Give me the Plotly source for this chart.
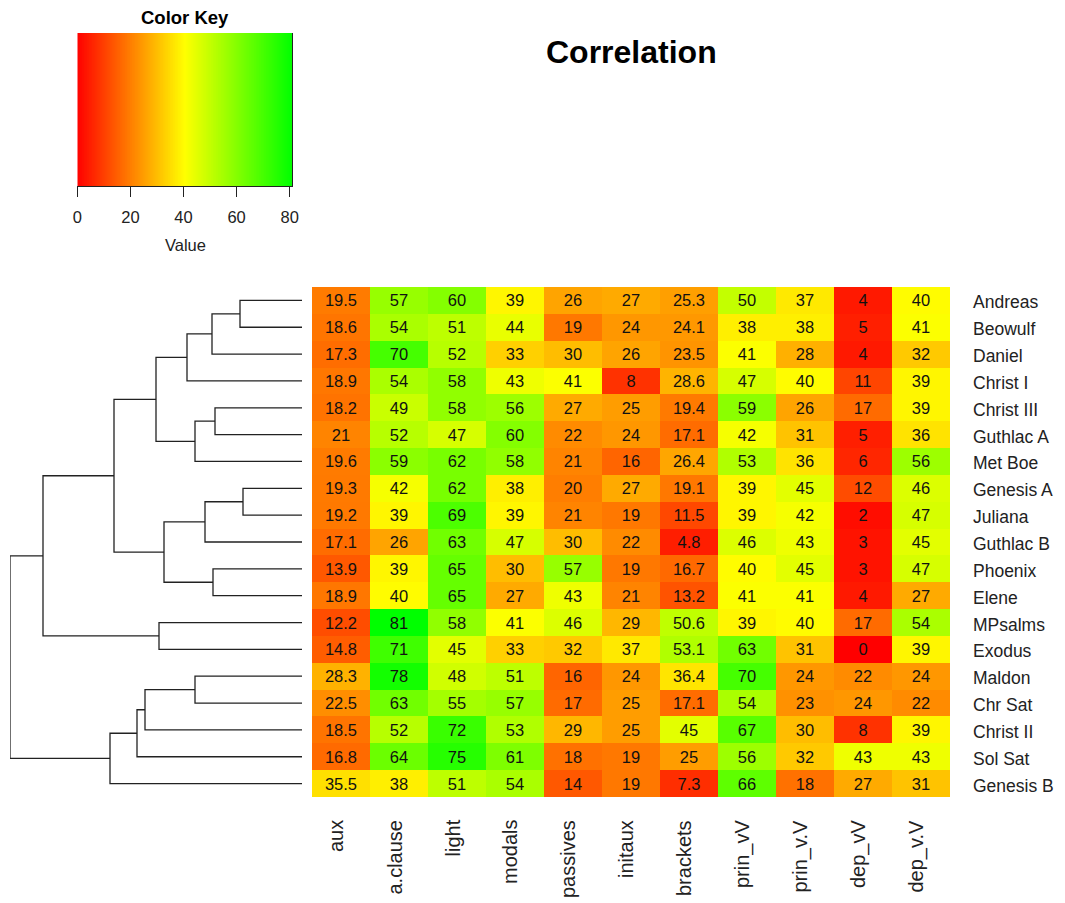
import numpy as np
import plotly.graph_objects as go

# ---- data -------------------------------------------------------------
texts = ["Andreas", "Beowulf", "Daniel", "Christ I", "Christ III", "Guthlac A",
         "Met Boe", "Genesis A", "Juliana", "Guthlac B", "Phoenix", "Elene",
         "MPsalms", "Exodus", "Maldon", "Chr Sat", "Christ II", "Sol Sat",
         "Genesis B"]
features = ["aux", "a.clause", "light", "modals", "passives", "initaux",
            "brackets", "prin_vV", "prin_v.V", "dep_vV", "dep_v.V"]

aux      = [19.5, 18.6, 17.3, 18.9, 18.2, 21, 19.6, 19.3, 19.2, 17.1, 13.9, 18.9, 12.2, 14.8, 28.3, 22.5, 18.5, 16.8, 35.5]
a_clause = [57, 54, 70, 54, 49, 52, 59, 42, 39, 26, 39, 40, 81, 71, 78, 63, 52, 64, 38]
light    = [60, 51, 52, 58, 58, 47, 62, 62, 69, 63, 65, 65, 58, 45, 48, 55, 72, 75, 51]
modals   = [39, 44, 33, 43, 56, 60, 58, 38, 39, 47, 30, 27, 41, 33, 51, 57, 53, 61, 54]
passives = [26, 19, 30, 41, 27, 22, 21, 20, 21, 30, 57, 43, 46, 32, 16, 17, 29, 18, 14]
initaux  = [27, 24, 26, 8, 25, 24, 16, 27, 19, 22, 19, 21, 29, 37, 24, 25, 25, 19, 19]
brackets = [25.3, 24.1, 23.5, 28.6, 19.4, 17.1, 26.4, 19.1, 11.5, 4.8, 16.7, 13.2, 50.6, 53.1, 36.4, 17.1, 45, 25, 7.3]
prin_vV  = [50, 38, 41, 47, 59, 42, 53, 39, 39, 46, 40, 41, 39, 63, 70, 54, 67, 56, 66]
prin_v_V = [37, 38, 28, 40, 26, 31, 36, 45, 42, 43, 45, 41, 40, 31, 24, 23, 30, 32, 18]
dep_vV   = [4, 5, 4, 11, 17, 5, 6, 12, 2, 3, 3, 4, 17, 0, 22, 24, 8, 43, 27]
dep_v_V  = [40, 41, 32, 39, 39, 36, 56, 46, 47, 45, 47, 27, 54, 39, 24, 22, 39, 43, 31]

# row clustering: each merge joins two members (leaf names or earlier nodes n1, n2, ...)
merge_a = ["Andreas", "n1", "n2", "Christ III", "n4", "n3", "Genesis A", "n7",
           "Phoenix", "n8", "n6", "MPsalms", "n11", "Maldon", "n14", "n15", "n16", "n13"]
merge_b = ["Beowulf", "Daniel", "Christ I", "Guthlac A", "Met Boe", "n5", "Juliana",
           "Guthlac B", "Elene", "n9", "n10", "Exodus", "n12", "Chr Sat", "Christ II",
           "Sol Sat", "Genesis B", "n17"]
merge_h = [62, 90, 115, 87, 107, 146, 59, 97, 89, 138, 188, 143, 259, 107, 157, 165, 192, 292]

key_ticks = [0, 20, 40, 60, 80]
zmin, zmax = 0, 81

# ---- layout helpers ---------------------------------------------------
W, H = 1065, 903
FONT = "Liberation Sans, Arial, sans-serif"


def px(x):
    return x / W


def py(y):
    return 1 - y / H


colorscale = [[0.0, "#FF0000"], [0.5, "#FFFF00"], [1.0, "#00FF00"]]

columns = [aux, a_clause, light, modals, passives, initaux, brackets,
           prin_vV, prin_v_V, dep_vV, dep_v_V]
z = np.array(columns, dtype=float).T
labels = [[f"{v:g}" for v in row] for row in z]

fig = go.Figure()

# main heatmap
fig.add_trace(go.Heatmap(
    z=z, x=list(range(len(features))), y=list(range(len(texts))),
    text=labels, texttemplate="%{text}",
    textfont=dict(family=FONT, size=16.5, color="#111111"),
    colorscale=colorscale, zmin=zmin, zmax=zmax, showscale=False,
    xaxis="x", yaxis="y", hoverinfo="skip",
))

# row dendrogram
pos = {name: i for i, name in enumerate(texts)}
hgt = {name: 0.0 for name in texts}
dx, dy = [], []
for k, (a, b, h) in enumerate(zip(merge_a, merge_b, merge_h)):
    node = f"n{k + 1}"
    ya, yb = pos[a], pos[b]
    dx += [hgt[a], h, h, hgt[b], None]
    dy += [ya, ya, yb, yb, None]
    pos[node] = (ya + yb) / 2
    hgt[node] = h

fig.add_trace(go.Scatter(
    x=dx, y=dy, mode="lines", line=dict(color="#222222", width=1.3),
    xaxis="x2", yaxis="y", hoverinfo="skip", showlegend=False,
))

# colour key
edges = np.linspace(zmin, zmax, 301)
mids = (edges[:-1] + edges[1:]) / 2
fig.add_trace(go.Heatmap(
    z=[mids], x=edges, y=[0, 1], colorscale=colorscale, zmin=zmin, zmax=zmax,
    showscale=False, xaxis="x3", yaxis="y3", hoverinfo="skip",
))

hm_left, hm_right, hm_top, hm_bottom = 312, 950, 287, 797

fig.update_layout(
    width=W, height=H, autosize=False,
    margin=dict(l=0, r=0, t=0, b=0, autoexpand=False),
    paper_bgcolor="white", plot_bgcolor="white",
    showlegend=False,
    font=dict(family=FONT, color="#222222"),
    xaxis=dict(domain=[px(hm_left), px(hm_right)], range=[-0.5, len(features) - 0.5],
               showgrid=False, zeroline=False, showticklabels=False, ticks="",
               anchor="y", automargin=False),
    yaxis=dict(domain=[py(hm_bottom), py(hm_top)], range=[len(texts) - 0.5, -0.5],
               showgrid=False, zeroline=False, showticklabels=False, ticks="",
               anchor="x", automargin=False),
    xaxis2=dict(domain=[px(10), px(302)], range=[max(merge_h), 0],
                showgrid=False, zeroline=False, showticklabels=False, ticks="",
                anchor="y", automargin=False),
    xaxis3=dict(domain=[px(77.3), px(292.3)], range=[zmin, zmax], anchor="y3",
                showgrid=False, zeroline=False, showline=True, linecolor="#222222",
                linewidth=1, ticks="outside", ticklen=10, tickwidth=1,
                tickcolor="#222222", tickvals=key_ticks, ticklabelstandoff=6,
                tickfont=dict(family=FONT, size=16.5, color="#222222"),
                automargin=False),
    yaxis3=dict(domain=[py(186), py(33)], range=[0, 1], anchor="x3", side="right",
                showgrid=False, zeroline=False, showline=True, linecolor="#222222",
                linewidth=1, showticklabels=False, ticks="", automargin=False),
)

ann = []
# title and key texts
ann.append(dict(text="<b>Correlation</b>", x=px(631), y=py(52), xref="paper", yref="paper",
                showarrow=False, xanchor="center", yanchor="middle",
                font=dict(family=FONT, size=32, color="#000000")))
ann.append(dict(text="<b>Color Key</b>", x=px(185), y=py(17), xref="paper", yref="paper",
                showarrow=False, xanchor="center", yanchor="middle",
                font=dict(family=FONT, size=18.5, color="#000000")))
ann.append(dict(text="Value", x=px(185), y=py(245), xref="paper", yref="paper",
                showarrow=False, xanchor="center", yanchor="middle",
                font=dict(family=FONT, size=16.5, color="#222222")))
# row labels
for i, name in enumerate(texts):
    ann.append(dict(text=name, x=px(971), y=i, xref="paper", yref="y",
                    showarrow=False, xanchor="left", yanchor="middle", yshift=-2,
                    font=dict(family=FONT, size=17.5, color="#222222")))
# column labels
for j, name in enumerate(features):
    ann.append(dict(text=name, x=j, y=py(818), xref="x", yref="paper",
                    showarrow=False, xanchor="center", yanchor="top", textangle=-90,
                    xshift=-5, font=dict(family=FONT, size=20, color="#222222")))
fig.update_layout(annotations=ann)

fig.write_html("out.html")
